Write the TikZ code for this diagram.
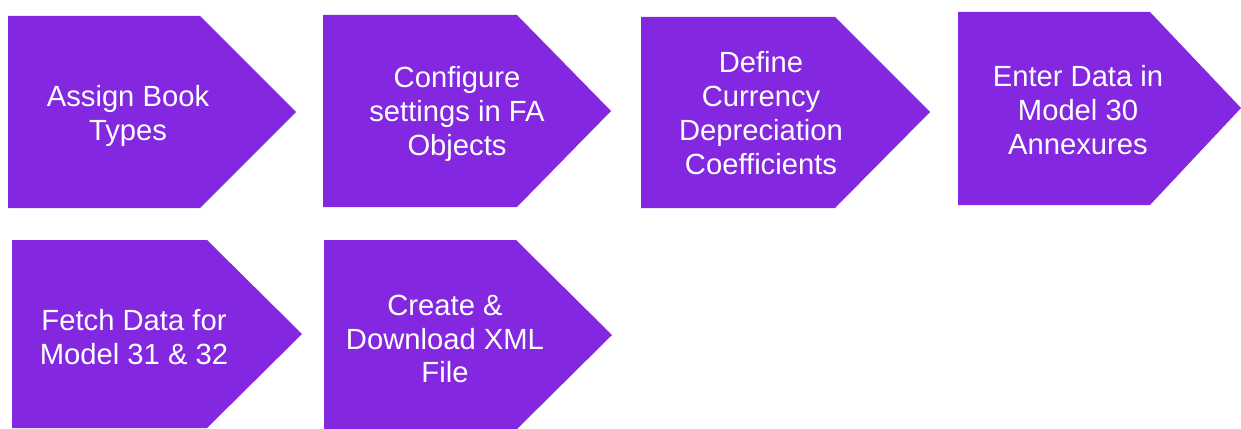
\documentclass[tikz,border=0pt]{standalone}
\usepackage{fontspec}
\setmainfont{Liberation Sans}
\definecolor{steppurple}{RGB}{132,39,224}
\tikzset{
  stepshape/.style={fill=steppurple},
  steptext/.style={text=white, align=center, font=\fontsize{29.2}{33.8}\selectfont, inner sep=0pt}
}
\begin{document}
\begin{tikzpicture}[x=1pt, y=-1pt]
	\useasboundingbox (0,0) rectangle (1241,428);
	% top row
	\fill[stepshape] (8,16) -- (200,16) -- (296,112) -- (200,208) -- (8,208) -- cycle;
	\node[steptext] (assign) at (128,116) {Assign Book\\Types};
	\fill[stepshape] (323,15) -- (517,15) -- (611,111) -- (517,207) -- (323,207) -- cycle;
	\node[steptext] (config) at (457,114) {Configure\\settings in FA\\Objects};
	\fill[stepshape] (641,17) -- (835,17) -- (930,112) -- (835,208) -- (641,208) -- cycle;
	\node[steptext] (define) at (761,113) {Define\\Currency\\Depreciation\\Coefficients};
	\fill[stepshape] (958,12) -- (1150,12) -- (1241,108) -- (1150,205) -- (958,205) -- cycle;
	\node[steptext] (enter) at (1078,110) {Enter Data in\\Model 30\\Annexures};
	% bottom row
	\fill[stepshape] (12,240) -- (207,240) -- (302,334) -- (207,428) -- (12,428) -- cycle;
	\node[steptext] (fetch) at (134,337) {Fetch Data for\\Model 31 \& 32};
	\fill[stepshape] (324,240) -- (516,240) -- (612,335) -- (516,430) -- (324,430) -- cycle;
	\node[steptext] (create) at (445,339) {Create \&\\Download XML\\File};
\end{tikzpicture}
\end{document}
